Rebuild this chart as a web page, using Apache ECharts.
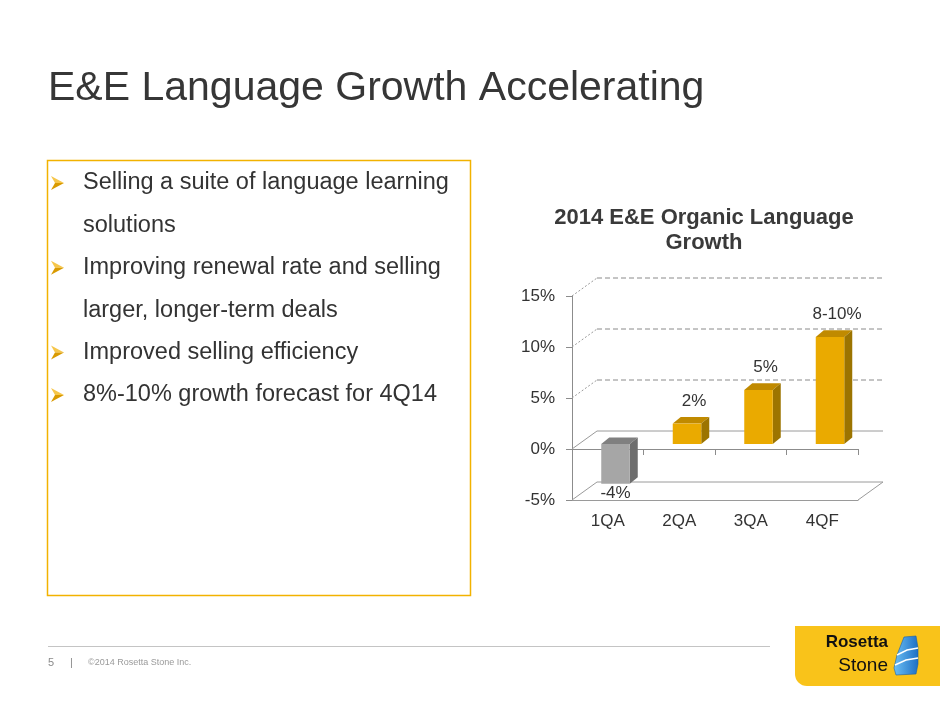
<!DOCTYPE html>
<html>
<head>
<meta charset="utf-8">
<script src="https://cdn.jsdelivr.net/npm/echarts@6/dist/echarts.min.js"></script>
<style>
html,body{margin:0;padding:0;background:#fff;}
#chart{width:940px;height:705px;}
</style>
</head>
<body>
<div id="chart"></div>
<script>
// ---- data ----
var categories = ['1QA', '2QA', '3QA', '4QF'];
var growthValues = [-3.9, 2.0, 5.3, 10.5];
var growthLabels = ['-4%', '2%', '5%', '8-10%'];
var yTicks = [-5, 0, 5, 10, 15];
var slideTitle = 'E&E Language Growth Accelerating';
var chartTitle = '2014 E&E Organic Language\nGrowth';
var bulletLines = [
  ['Selling a suite of language learning', 'solutions'],
  ['Improving renewal rate and selling', 'larger, longer-term deals'],
  ['Improved selling efficiency'],
  ['8%-10% growth forecast for 4Q14']
];

// ---- style constants ----
var FONT = '"Liberation Sans", Arial, Helvetica, sans-serif';
var WALL_DX = 25, WALL_DY = -18;
var BAR_OFF_X = 7.75, BAR_OFF_Y = -5, BAR_W = 28.5, BAR_DX = 8, BAR_DY = -6.6;
var GOLD = {front: '#EAAA00', top: '#C08A00', side: '#9C7400'};
var GRAY = {front: '#A6A6A6', top: '#808080', side: '#6E6E6E'};

var chart = echarts.init(document.getElementById('chart'), null, {renderer: 'canvas'});

function wallItem(params, api) {
  var cs = params.coordSys;
  var v = api.value(1);
  var y = api.coord([0, v])[1];
  var x0 = cs.x, x1 = cs.x + cs.width;
  var isSolid = (v <= 0);
  var children = [];
  children.push({
    type: 'line',
    shape: {x1: x0, y1: y, x2: x0 + WALL_DX, y2: y + WALL_DY},
    style: {stroke: '#9a9a9a', lineWidth: 1, lineDash: isSolid ? null : [2, 2]}
  });
  children.push({
    type: 'line',
    shape: {x1: x0 + WALL_DX, y1: y + WALL_DY, x2: x1 + WALL_DX, y2: y + WALL_DY},
    style: {stroke: isSolid ? '#9a9a9a' : '#8a8a8a', lineWidth: 1, lineDash: isSolid ? null : [5, 3]}
  });
  if (params.dataIndex === 0) {
    children.push({
      type: 'line',
      shape: {x1: x1, y1: y, x2: x1 + WALL_DX, y2: y + WALL_DY},
      style: {stroke: '#9a9a9a', lineWidth: 1}
    });
  }
  return {type: 'group', children: children};
}

function barItem(params, api) {
  var idx = api.value(0);
  var v = api.value(1);
  var pv = api.coord([idx, v]);
  var p0 = api.coord([idx, 0]);
  var cx = pv[0] + BAR_OFF_X;
  var top = Math.min(pv[1], p0[1]) + BAR_OFF_Y;
  var bot = Math.max(pv[1], p0[1]) + BAR_OFF_Y;
  var xl = cx - BAR_W / 2, xr = cx + BAR_W / 2;
  var col = v < 0 ? GRAY : GOLD;
  var label = growthLabels[params.dataIndex];
  var children = [
    {type: 'polygon', shape: {points: [[xl, top], [xr, top], [xr + BAR_DX, top + BAR_DY], [xl + BAR_DX, top + BAR_DY]]}, style: {fill: col.top}},
    {type: 'polygon', shape: {points: [[xr, top], [xr + BAR_DX, top + BAR_DY], [xr + BAR_DX, bot + BAR_DY], [xr, bot]]}, style: {fill: col.side}},
    {type: 'rect', shape: {x: xl, y: top, width: BAR_W, height: bot - top}, style: {fill: col.front}},
    {
      type: 'text',
      style: {
        text: label,
        x: v < 0 ? cx : cx + 7,
        y: v < 0 ? bot + 10 : top + BAR_DY - 16,
        align: 'center', verticalAlign: 'middle',
        fill: '#333', font: '17px ' + FONT
      },
      z2: 10
    }
  ];
  return {type: 'group', children: children};
}

var graphics = [];
graphics.push({
  type: 'text',
  style: {text: slideTitle, x: 48, y: 89, verticalAlign: 'middle', fill: '#363636', font: '41px ' + FONT}
});
graphics.push({
  type: 'rect', shape: {x: 47.5, y: 160.5, width: 423, height: 435},
  style: {fill: 'none', stroke: '#F2B200', lineWidth: 1.5}
});
var lineY = 183;
bulletLines.forEach(function (lines) {
  var by = lineY;
  graphics.push({type: 'polygon', shape: {points: [[51, by - 7], [64, by], [55, by]]}, style: {fill: '#F6C64A'}});
  graphics.push({type: 'polygon', shape: {points: [[51, by + 7], [64, by], [55, by]]}, style: {fill: '#D99A00'}});
  lines.forEach(function (t) {
    graphics.push({type: 'text', style: {text: t, x: 83, y: lineY, verticalAlign: 'middle', fill: '#333', font: '23.5px ' + FONT}});
    lineY += 42.4;
  });
});
graphics.push({
  type: 'text',
  style: {text: chartTitle, x: 704, y: 230, align: 'center', verticalAlign: 'middle', fill: '#3a3a3a', font: 'bold 22px ' + FONT, lineHeight: 25}
});
// footer
graphics.push({type: 'line', shape: {x1: 48, y1: 646.5, x2: 770, y2: 646.5}, style: {stroke: '#c4c4c4', lineWidth: 1}});
graphics.push({type: 'text', style: {text: '5', x: 48, y: 663, verticalAlign: 'middle', fill: '#8a8a8a', font: '11px ' + FONT}});
graphics.push({type: 'text', style: {text: '|', x: 70, y: 663, verticalAlign: 'middle', fill: '#8a8a8a', font: '11px ' + FONT}});
graphics.push({type: 'text', style: {text: '\u00A92014 Rosetta Stone Inc.', x: 88, y: 663, verticalAlign: 'middle', fill: '#9a9a9a', font: '9px ' + FONT}});
// logo
graphics.push({type: 'rect', shape: {x: 795, y: 626, width: 145, height: 60, r: [0, 0, 0, 12]}, style: {fill: '#F9C31A'}});
graphics.push({type: 'text', style: {text: 'Rosetta', x: 888, y: 651, align: 'right', verticalAlign: 'bottom', fill: '#111', font: 'bold 17px ' + FONT}, z: 5});
graphics.push({type: 'text', style: {text: 'Stone', x: 888, y: 666, align: 'right', verticalAlign: 'middle', fill: '#111', font: '19px ' + FONT}, z: 5});
graphics.push({
  type: 'polygon',
  shape: {points: [[904, 637], [916, 636], [918, 648], [918, 664], [916, 674], [896, 675], [894, 668], [897, 655]]},
  style: {fill: new echarts.graphic.LinearGradient(0, 0, 1, 0, [{offset: 0, color: '#6CC0F5'}, {offset: 1, color: '#1E6FC4'}]), stroke: '#1a5fa8', lineWidth: 0.6},
  z: 5
});
graphics.push({type: 'polyline', shape: {points: [[897, 655], [907, 650], [918, 648]]}, style: {stroke: '#fff', lineWidth: 1.4, fill: null}, z: 6});
graphics.push({type: 'polyline', shape: {points: [[895, 665], [906, 660], [918, 658]]}, style: {stroke: '#fff', lineWidth: 1.4, fill: null}, z: 6});

var option = {
  animation: false,
  backgroundColor: '#fff',
  textStyle: {fontFamily: FONT},
  grid: {left: 572, top: 296, width: 286, height: 204, containLabel: false},
  xAxis: [
    {
      type: 'category', data: categories, position: 'bottom',
      axisLine: {onZero: true, lineStyle: {color: '#8c8c8c', width: 1}},
      axisTick: {show: true, length: 6, alignWithLabel: false, lineStyle: {color: '#8c8c8c'}},
      axisLabel: {show: false}
    },
    {
      type: 'category', data: categories, position: 'bottom',
      axisLine: {onZero: false, show: true, lineStyle: {color: '#9a9a9a', width: 1}},
      axisTick: {show: false},
      axisLabel: {show: true, color: '#333', fontSize: 17, margin: 13, fontFamily: FONT}
    }
  ],
  yAxis: {
    type: 'value', min: -5, max: 15, interval: 5,
    axisLine: {show: true, lineStyle: {color: '#8c8c8c', width: 1}},
    axisTick: {show: true, length: 6, lineStyle: {color: '#8c8c8c'}},
    axisLabel: {formatter: '{value}%', color: '#333', fontSize: 17, margin: 17, fontFamily: FONT},
    splitLine: {show: false}
  },
  series: [
    {
      type: 'custom', name: 'wall', xAxisIndex: 0, yAxisIndex: 0, z: 1, silent: true,
      renderItem: wallItem,
      data: yTicks.map(function (v) { return [0, v]; }),
      encode: {x: 0, y: 1}
    },
    {
      type: 'custom', name: 'growth', xAxisIndex: 0, yAxisIndex: 0, z: 3,
      renderItem: barItem,
      data: growthValues.map(function (v, i) { return [i, v]; }),
      encode: {x: 0, y: 1}
    }
  ],
  graphic: graphics
};
chart.setOption(option);
</script>
</body>
</html>
